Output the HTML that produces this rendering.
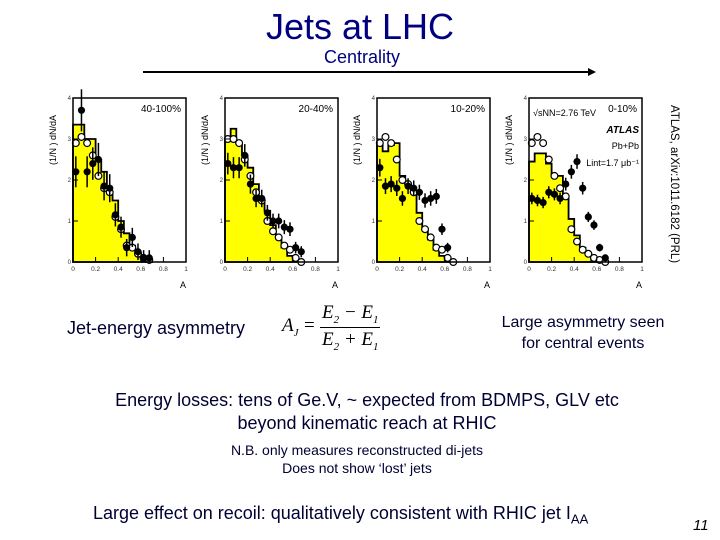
<!DOCTYPE html>
<html><head><meta charset="utf-8">
<style>
body{margin:0;background:#fff;}
#slide{position:relative;width:720px;height:540px;overflow:hidden;background:#fff;font-family:"Liberation Sans",sans-serif;color:#000033;}
.t{position:absolute;white-space:nowrap;}
</style></head>
<body>
<div id="slide">
<div class="t" style="left:0;width:720px;text-align:center;top:6px;font-size:36px;color:#000080;">Jets at LHC</div>
<div class="t" style="left:0;width:724px;text-align:center;top:47px;font-size:18px;color:#000080;">Centrality</div>
<svg class="t" style="left:0;top:0" width="720" height="540" id="svg">
<line x1="143" y1="72" x2="588" y2="72" stroke="#000" stroke-width="2"/>
<polygon points="588,68 596,72 588,76" fill="#000"/>
</svg>
<div class="t" style="left:668px;top:105px;font-size:11.5px;color:#000;writing-mode:vertical-rl;">ATLAS, arXiv:1011.6182 (PRL)</div>
<div class="t" style="left:67px;top:318px;font-size:18px;">Jet-energy asymmetry</div>
<div class="t" style="left:282px;top:302px;font-family:'Liberation Serif',serif;font-size:19px;color:#000;">
<span style="position:absolute;left:0;top:13px;font-style:italic;">A<sub style="font-size:11px">J</sub></span>
<span style="position:absolute;left:22px;top:13px;">=</span>
<span style="position:absolute;left:40px;top:0;font-style:italic;">E<sub style="font-size:11px">2</sub> − E<sub style="font-size:11px">1</sub></span>
<span style="position:absolute;left:38px;top:25px;width:60px;border-top:1px solid #000;"></span>
<span style="position:absolute;left:40px;top:27px;font-style:italic;">E<sub style="font-size:11px">2</sub> + E<sub style="font-size:11px">1</sub></span>
</div>
<div class="t" style="left:470px;width:226px;text-align:center;top:312px;font-size:16px;line-height:21px;">Large asymmetry seen<br>for central events</div>
<div class="t" style="left:0;width:734px;text-align:center;top:389px;font-size:18px;line-height:23px;">Energy losses: tens of Ge.V, ~ expected from BDMPS, GLV etc<br>beyond kinematic reach at RHIC</div>
<div class="t" style="left:0;width:714px;text-align:center;top:441px;font-size:14px;line-height:18px;">N.B. only measures reconstructed di-jets<br>Does not show ‘lost’ jets</div>
<div class="t" style="left:93px;top:503px;font-size:18px;">Large effect on recoil: qualitatively consistent with RHIC jet I<sub style="font-size:13px">AA</sub></div>
<div class="t" style="left:693px;top:517px;font-size:15px;font-style:italic;color:#000;">11</div>
</div>
<script>
const xTicks=["0","0.2","0.4","0.6","0.8","1"];
const yTicks=["0","1","2","3","4"];
const panelLabels=["40-100%","20-40%","10-20%","0-10%"];
const mc1=[3.35,3.35,3.0,3.0,2.5,2.2,1.7,1.5,1.0,0.7,0.4,0.25,0.1,0.05];
const mc2=[3.0,3.25,2.9,2.6,2.3,1.9,1.5,1.25,0.9,0.6,0.35,0.15,0.05,0];
const mc3=[2.85,2.7,2.85,2.9,2.1,1.9,1.7,1.2,0.8,0.55,0.3,0.15,0.05,0];
const mc4=[2.45,2.65,2.65,2.4,2.1,2.1,1.6,1.05,0.65,0.35,0.2,0.05,0,0];
const pbpb1=[2.2,3.7,2.2,2.4,2.5,1.85,1.8,1.15,0.85,0.35,0.6,0.25,0.1,0.1];
const pbpb2=[2.4,2.3,2.3,2.6,1.9,1.55,1.55,1.2,1.0,1.0,0.85,0.8,0.35,0.25];
const pbpb3=[2.3,1.85,1.9,1.8,1.55,1.85,1.8,1.7,1.5,1.55,1.6,0.8,0.35,null];
const pbpb4=[1.55,1.5,1.45,1.7,1.65,1.55,1.9,2.2,2.45,1.8,1.1,0.9,0.35,0.1];
const pp1=[2.9,3.05,2.9,2.6,2.1,1.8,1.7,1.1,0.8,0.4,0.35,0.2,0.1,0.05];
const pp2=[3.0,3.0,2.9,2.5,2.1,1.7,1.5,1.0,0.75,0.6,0.4,0.3,0.1,0.0];
const pp3=[2.9,3.05,2.9,2.5,2.0,1.9,1.7,1.0,0.8,0.6,0.35,0.3,0.1,0.0];
const pp4=[2.9,3.05,2.9,2.5,2.1,1.8,1.6,0.8,0.5,0.3,0.2,0.1,0.05,0];
const binW=0.05;
const mcs=[mc1,mc2,mc3,mc4],pbs=[pbpb1,pbpb2,pbpb3,pbpb4],pps=[pp1,pp2,pp3,pp4];
const errScale=[0.45,0.3,0.25,0.2];
const lefts=[73,225,377,529];
const NS="http://www.w3.org/2000/svg";
const svg=document.getElementById('svg');
function mk(tag,attrs,parent){const e=document.createElementNS(NS,tag);for(const k in attrs)e.setAttribute(k,attrs[k]);(parent||svg).appendChild(e);return e;}
const top0=98,bot=262,W=113;
for(let p=0;p<4;p++){
  const L=lefts[p];
  const xs=v=>L+v*W, ys=v=>bot-v/4*(bot-top0);
  const g=mk('g',{});
  
  
  let d='M'+xs(0)+','+ys(0);
  mcs[p].forEach((v,i)=>{d+=' L'+xs(i*binW)+','+ys(v)+' L'+xs((i+1)*binW)+','+ys(v);});
  d+=' L'+xs(mcs[p].length*binW)+','+ys(0)+'Z';
  const h=mk('path',{d:d,fill:'#ffff00',stroke:'#000','stroke-width':1.8},g);
  
  
  pps[p].forEach((v,i)=>{if(v==null)return;const c=mk('circle',{cx:xs((i+0.5)*binW),cy:ys(v),r:3.4,fill:'#fff',stroke:'#000','stroke-width':1.2},g);
    
    });
  pbs[p].forEach((v,i)=>{if(v==null)return;const x=xs((i+0.5)*binW);const err=errScale[p]*(0.4+0.6*v/3);
    const l=mk('line',{x1:x,x2:x,y1:ys(v+err),y2:ys(Math.max(0,v-err)),stroke:'#000','stroke-width':1.5},g);
    
    
    const c=mk('circle',{cx:x,cy:ys(v),r:3.6,fill:'#000'},g);
    
    });
  const f=mk('rect',{x:L,y:top0,width:W,height:bot-top0,fill:'none',stroke:'#000','stroke-width':1.5},g);
  
  
  xTicks.forEach((t,i)=>{const v=+t;mk('line',{x1:xs(v),x2:xs(v),y1:bot,y2:bot-5,stroke:'#000'},g);
    const tx=mk('text',{x:xs(v),y:bot+9,'font-size':6.5,'text-anchor':'middle',fill:'#333','font-family':'Liberation Sans'},g);tx.textContent=t;
    
    });
  yTicks.forEach(t=>{const v=+t;mk('line',{x1:L,x2:L+5,y1:ys(v),y2:ys(v),stroke:'#000'},g);
    const tx=mk('text',{x:L-2,y:ys(v)+2,'font-size':6,'text-anchor':'end',fill:'#333','font-family':'Liberation Sans'},g);tx.textContent=t;
    
    });
  const xl=mk('text',{x:L+W-6,y:288,'font-size':9,fill:'#000','font-family':'Liberation Sans'},g);xl.textContent='A';
  
  
  const yl=mk('text',{x:0,y:0,'font-size':9,fill:'#000','font-family':'Liberation Sans','text-anchor':'middle',transform:'translate('+(L-17)+',140) rotate(-90)'},g);yl.textContent='(1/N  ) dN/dA';
  
  
  const pl=mk('text',{x:L+W-5,y:top0+14,'font-size':10,'text-anchor':'end',fill:'#000','font-family':'Liberation Sans'},g);pl.textContent=panelLabels[p];
  
  
}
[["√sNN=2.76 TeV",533,116,9,'normal','start'],["ATLAS",639,133,10,'bold','end'],["Pb+Pb",639,149,9,'normal','end'],["Lint=1.7 μb⁻¹",639,166,9,'normal','end']].forEach(a=>{
  const t=mk('text',{x:a[1],y:a[2],'font-size':a[3],'font-weight':a[4],'text-anchor':a[5],'font-style':a[4]=='bold'?'italic':'normal',fill:'#000','font-family':'Liberation Sans'});
  t.textContent=a[0];
  
  
});
</script>
</body></html>
